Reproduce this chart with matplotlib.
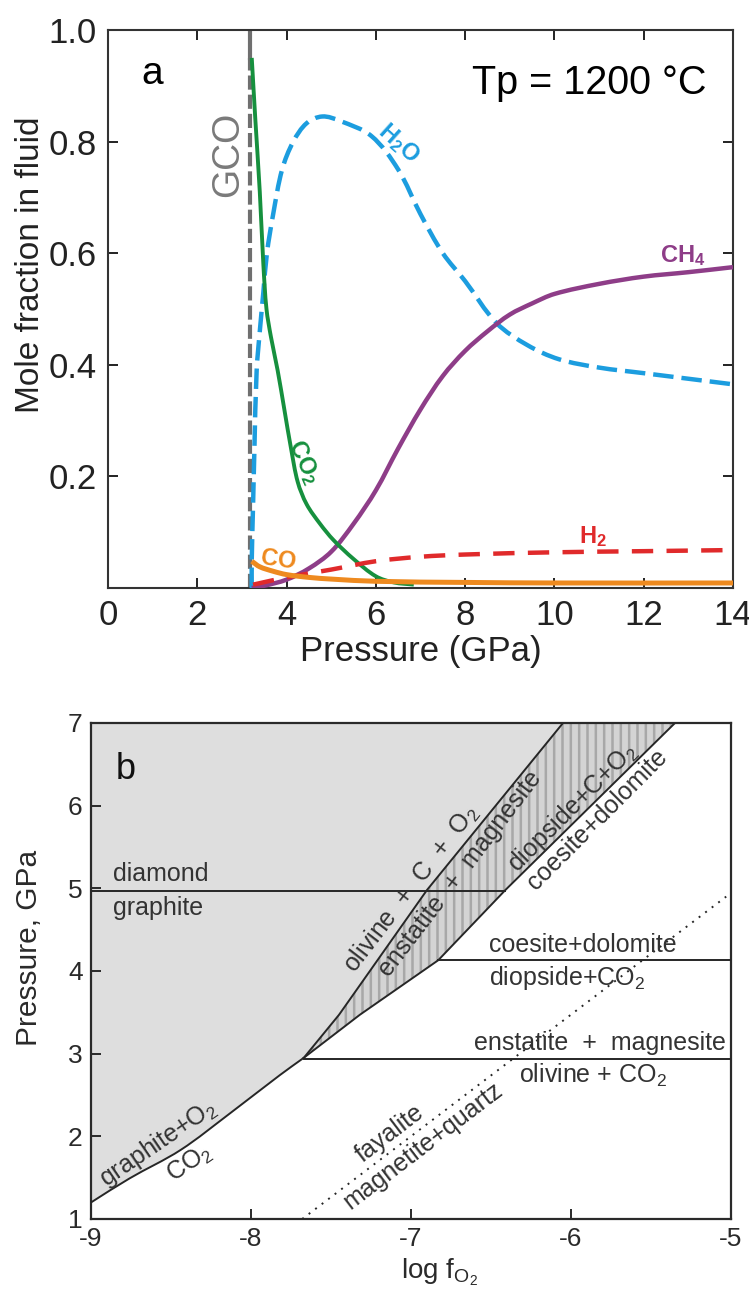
import numpy as np
import matplotlib
matplotlib.use("Agg")
import matplotlib.pyplot as plt
from matplotlib.patches import Polygon, PathPatch
from matplotlib.path import Path

plt.rcParams['font.family'] = ['Liberation Sans', 'DejaVu Sans']
plt.rcParams['mathtext.fontset'] = 'custom'
plt.rcParams['mathtext.rm'] = 'Liberation Sans'
plt.rcParams['mathtext.it'] = 'Liberation Sans:italic'
plt.rcParams['mathtext.bf'] = 'Liberation Sans:bold'
plt.rcParams['mathtext.default'] = 'regular'
plt.rcParams['hatch.color'] = '#a8a8a8'
plt.rcParams['hatch.linewidth'] = 1.8

# ---- (a) fluid speciation vs pressure, Tp = 1200 C ----
gco_p = 3.19
gco_solid_from = 0.95

h2o_p = [3.22, 3.22, 3.25, 3.28, 3.33, 3.40, 3.48, 3.56, 3.70, 3.90, 4.15, 4.45, 4.80,
         5.20, 5.90, 6.50, 7.00, 7.50, 8.00, 8.70, 9.40, 10.1, 11.0, 12.0, 13.0, 14.0]
h2o_x = [0.00, 0.05, 0.15, 0.25, 0.39, 0.46, 0.53, 0.60, 0.67, 0.75, 0.80, 0.833, 0.845,
         0.837, 0.81, 0.75, 0.67, 0.60, 0.55, 0.475, 0.435, 0.41, 0.395, 0.385, 0.375, 0.365]

co2_p = [3.22, 3.30, 3.40, 3.48, 3.55, 3.65, 3.80, 3.95, 4.10, 4.25, 4.45, 4.75,
         5.05, 5.50, 6.00, 6.40, 6.85]
co2_x = [0.95, 0.84, 0.71, 0.58, 0.50, 0.45, 0.39, 0.32, 0.25, 0.19, 0.15, 0.115,
         0.086, 0.052, 0.021, 0.010, 0.006]

ch4_p = [3.22, 3.50, 4.00, 4.50, 5.00, 5.50, 6.00, 6.50, 7.00, 7.50, 8.00, 8.50,
         9.00, 9.50, 10.0, 11.0, 12.0, 13.0, 14.0]
ch4_x = [0.000, 0.004, 0.015, 0.035, 0.065, 0.115, 0.175, 0.25, 0.32, 0.38, 0.425, 0.46,
         0.49, 0.51, 0.527, 0.545, 0.558, 0.566, 0.575]

h2_p = [3.25, 4.0, 5.0, 6.0, 7.0, 8.0, 10.0, 12.0, 14.0]
h2_x = [0.006, 0.019, 0.033, 0.048, 0.056, 0.060, 0.064, 0.066, 0.068]

co_p = [3.22, 3.40, 3.70, 4.00, 4.50, 5.00, 6.00, 8.00, 10.0, 14.0]
co_x = [0.048, 0.038, 0.030, 0.024, 0.019, 0.016, 0.012, 0.010, 0.009, 0.009]

# ---- (b) log fO2 - P diagram ----
# graphite+O2 = CO2
gco2_f = [-9.0, -8.76, -8.44, -8.13, -7.82, -7.67]
gco2_p = [1.2, 1.49, 1.835, 2.28, 2.74, 2.95]
# olivine + C + O2 = enstatite + magnesite
mgs_f = [-7.67, -7.45, -6.90, -6.05]
mgs_p = [2.95, 3.47, 4.98, 7.0]
# diopside+C+O2 = coesite+dolomite
dol_f = [-7.67, -7.32, -6.83, -6.41, -5.35]
dol_p = [2.95, 3.47, 4.13, 4.98, 7.0]
# horizontal boundaries
dia_p, dia_f = 4.97, (-9.0, -6.41)
coe_p, coe_f = 4.13, (-6.83, -5.0)
ens_p, ens_f = 2.94, (-7.67, -5.0)
# fayalite = magnetite+quartz
fmq_f = [-7.68, -5.03]
fmq_p = [1.0, 4.9]

c_h2o = '#1c9ddf'
c_co2 = '#16903e'
c_ch4 = '#8e3d88'
c_h2 = '#e02a2b'
c_co = '#ee8a1f'
c_gco = '#6f6f6f'


def smooth(ax, xs, ys, **kw):
    """Draw a smooth bezier curve through the given points."""
    pts = ax.transData.transform(np.column_stack([xs, ys]))
    n = len(pts)
    tang = []
    for i in range(n):
        d = pts[min(i + 1, n - 1)] - pts[max(i - 1, 0)]
        L = np.hypot(*d)
        tang.append(d / L if L > 0 else d)
    verts = [pts[0]]
    codes = [Path.MOVETO]
    for i in range(n - 1):
        seg = np.hypot(*(pts[i + 1] - pts[i])) / 3.0
        verts += [pts[i] + tang[i] * seg, pts[i + 1] - tang[i + 1] * seg, pts[i + 1]]
        codes += [Path.CURVE4] * 3
    verts = ax.transData.inverted().transform(np.array(verts))
    patch = PathPatch(Path(verts, codes), fill=False, capstyle='butt', **kw)
    ax.add_patch(patch)
    return patch


fig = plt.figure(figsize=(7.49, 12.94), dpi=100)

ax = fig.add_axes([108/749, 1 - 588/1294, 625/749, 558/1294])
ax.set_xlim(0, 14)
ax.set_ylim(0, 1.0)

ax.plot([gco_p, gco_p], [0, gco_solid_from], color=c_gco, lw=3.0, dashes=(3.4, 1.2), zorder=2)
ax.plot([gco_p, gco_p], [gco_solid_from, 1.0], color=c_gco, lw=3.0, zorder=2)
smooth(ax, h2o_p, h2o_x, edgecolor=c_h2o, lw=3.2, linestyle=(0, (4.6, 1.8)), zorder=3)
smooth(ax, ch4_p, ch4_x, edgecolor=c_ch4, lw=3.2, zorder=3)
smooth(ax, co2_p, co2_x, edgecolor=c_co2, lw=2.8, zorder=4)
smooth(ax, h2_p, h2_x, edgecolor=c_h2, lw=3.2, linestyle=(0, (4.8, 3.0)), zorder=4)
smooth(ax, co_p, co_x, edgecolor=c_co, lw=3.6, zorder=5)

ax.set_xticks(np.arange(0, 15, 2))
ax.set_yticks([0.2, 0.4, 0.6, 0.8, 1.0])
ax.set_yticklabels(['0.2', '0.4', '0.6', '0.8', '1.0'])
ax.tick_params(direction='in', top=True, right=True, length=7, width=1.4,
               labelsize=25, colors='#222222', pad=8)
for s in ax.spines.values():
    s.set_linewidth(1.5)
    s.set_color('#333333')
ax.set_xlabel('Pressure (GPa)', fontsize=25, labelpad=2, color='#222222')
ax.set_ylabel('Mole fraction in fluid', fontsize=24, color='#222222')
ax.yaxis.set_label_coords(-0.099, 0.58)

ax.text(0.98, 0.921, 'a', fontsize=28, ha='center', va='center')
ax.text(13.4, 0.905, 'Tp = 1200 °C', fontsize=28.5, ha='right', va='center')
ax.text(2.69, 0.778, 'GCO', fontsize=27, color='#7a7a7a', rotation=90, ha='center', va='center')
ax.text(6.5, 0.797, 'H$_2$O', fontsize=17, fontweight='bold', color=c_h2o,
        rotation=-42, ha='center', va='center')
ax.text(12.87, 0.595, 'CH$_4$', fontsize=17, fontweight='bold', color=c_ch4, ha='center', va='center')
ax.text(4.39, 0.226, 'CO$_2$', fontsize=17, fontweight='bold', color=c_co2,
        rotation=-66, ha='center', va='center')
ax.text(3.82, 0.05, 'CO', fontsize=17, fontweight='bold', color=c_co,
        rotation=-8, ha='center', va='center')
ax.text(10.87, 0.093, 'H$_2$', fontsize=17, fontweight='bold', color=c_h2, ha='center', va='center')

# ---- panel b ----
bx = fig.add_axes([91/749, 1 - 1219/1294, 640/749, 496/1294])
bx.set_xlim(-9, -5)
bx.set_ylim(1, 7)
top = bx.get_ylim()[1]
left = bx.get_xlim()[0]

# graphite-stable field
gx = list(gco2_f) + list(mgs_f[1:]) + [left]
gy = list(gco2_p) + list(mgs_p[1:]) + [top]
bx.add_patch(Polygon(np.column_stack([gx, gy]), closed=True, facecolor='#dedede', lw=0, zorder=1))
# hatched band between the two carbonate reactions
hx = list(mgs_f) + list(dol_f[::-1])
hy = list(mgs_p) + list(dol_p[::-1])
bx.add_patch(Polygon(np.column_stack([hx, hy]), closed=True, facecolor='#d4d4d4',
                     hatch='||', lw=0, zorder=1))

line_kw = dict(color='#262626', lw=1.4, zorder=3)
smooth(bx, gco2_f, gco2_p, edgecolor='#262626', lw=1.4, zorder=3)
bx.plot(mgs_f, mgs_p, **line_kw)
bx.plot(dol_f, dol_p, **line_kw)
bx.plot(dia_f, [dia_p, dia_p], **line_kw)
bx.plot(coe_f, [coe_p, coe_p], **line_kw)
bx.plot(ens_f, [ens_p, ens_p], **line_kw)
bx.plot(fmq_f, fmq_p, color='#262626', lw=1.4, ls=(0, (1, 3.2)), zorder=3)

bx.set_xticks([-9, -8, -7, -6, -5])
bx.set_xticklabels(['-9', '-8', '-7', '-6', '-5'])
bx.set_yticks(range(1, 8))
bx.tick_params(direction='in', length=7, width=1.4, labelsize=19, colors='#2a2a2a', pad=6)
for s in bx.spines.values():
    s.set_linewidth(1.6)
    s.set_color('#2a2a2a')
bx.set_xlabel('log f$_{O_2}$', fontsize=20, color='#2a2a2a', labelpad=4)
bx.xaxis.set_label_coords(0.545, -0.075)
bx.set_ylabel('Pressure, GPa', fontsize=21.5, color='#2a2a2a')
bx.yaxis.set_label_coords(-0.075, 0.546)


def slope_deg(fx, py):
    return np.degrees(np.arctan2(py[-1] - py[0], fx[-1] - fx[0]))


txt = dict(fontsize=18, color='#333333', zorder=4, rotation_mode='anchor',
           transform_rotates_text=True)
bx.text(-8.78, 6.44, 'b', fontsize=26, color='#111111', ha='center', va='center')
bx.text(-8.86, 5.03, 'diamond', fontsize=18, color='#333333', ha='left', va='bottom')
bx.text(-8.86, 4.91, 'graphite', fontsize=18, color='#333333', ha='left', va='top')

a_mgs = slope_deg(mgs_f[1:], mgs_p[1:])
a_dol = slope_deg(dol_f[2:], dol_p[2:])
a_gco2 = slope_deg(gco2_f, gco2_p)
a_fmq = slope_deg(fmq_f, fmq_p)

bx.text(-6.93, 4.90, 'olivine  +  C  +  O$_2$', rotation=a_mgs, ha='center', va='bottom', **txt)
bx.text(-6.75, 5.27, 'enstatite  +  magnesite', rotation=a_mgs, ha='center', va='top', **txt)
bx.text(-5.93, 5.86, 'diopside+C+O$_2$', rotation=a_dol, ha='center', va='bottom', **txt)
bx.text(-5.89, 5.93, 'coesite+dolomite', rotation=a_dol, ha='center', va='top', **txt)
bx.text(-8.53, 1.78, 'graphite+O$_2$', rotation=a_gco2, ha='center', va='bottom', **txt)
bx.text(-8.43, 1.80, 'CO$_2$', rotation=a_gco2, ha='center', va='top', **txt)
bx.text(-7.09, 1.92, 'fayalite', rotation=a_fmq, ha='center', va='bottom', **txt)
bx.text(-6.97, 2.0, 'magnetite+quartz', rotation=a_fmq, ha='center', va='top', **txt)

bx.text(-6.51, 4.17, 'coesite+dolomite', fontsize=18, color='#333333', ha='left', va='bottom', zorder=4)
bx.text(-6.51, 4.09, 'diopside+CO$_2$', fontsize=18, color='#333333', ha='left', va='top', zorder=4)
bx.text(-5.03, 2.98, 'enstatite  +  magnesite', fontsize=18, color='#333333', ha='right', va='bottom', zorder=4)
bx.text(-5.86, 2.90, 'olivine + CO$_2$', fontsize=18, color='#333333', ha='center', va='top', zorder=4)

fig.savefig('out.png', dpi=100)
